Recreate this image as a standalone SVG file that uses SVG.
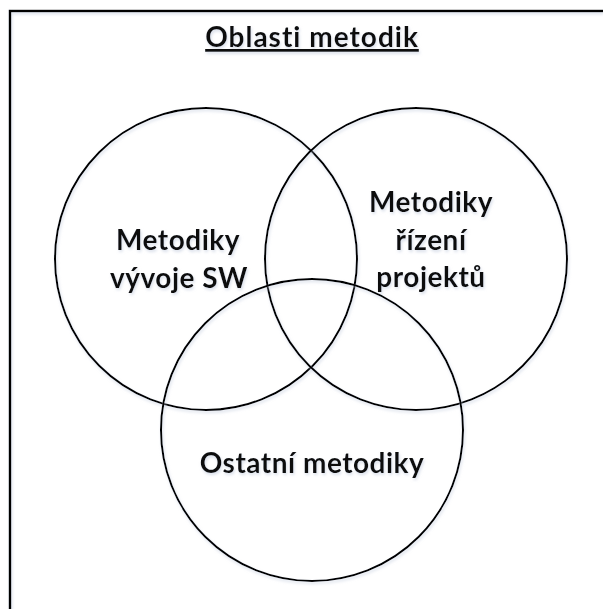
<svg xmlns="http://www.w3.org/2000/svg" width="603" height="609" viewBox="0 0 603 609">
  <defs>
    <filter id="soft" x="-10%" y="-10%" width="120%" height="120%">
      <feDropShadow dx="1" dy="2" stdDeviation="1.5" flood-color="#b9c4d8" flood-opacity="0.55"/>
    </filter>
  </defs>
  <style>
    .ring { fill: none; stroke: #000; stroke-width: 2; }
    .lbl { font-family: Lato, "Open Sans", "Liberation Sans", sans-serif; font-weight: 700; font-size: 28px; letter-spacing: 0.5px; fill: #111; text-anchor: middle; }
    .title { font-size: 28px; letter-spacing: 1px; text-decoration: underline; }
  </style>
  <rect width="603" height="609" fill="#fff"/>
  <!-- frame: only its top and left sides fall inside the canvas -->
  <g id="frame" filter="url(#soft)">
    <path d="M10,609 V11 H603" fill="none" stroke="#000" stroke-width="2.5"/>
  </g>
  <g id="title" filter="url(#soft)">
    <text class="lbl title" x="312" y="47">Oblasti metodik</text>
  </g>
  <g id="connectors"></g>
  <g id="sw" filter="url(#soft)">
    <circle class="ring" cx="206" cy="259" r="151"/>
    <text class="lbl" x="178" y="250">Metodiky</text>
    <text class="lbl" x="179" y="288">vývoje SW</text>
  </g>
  <g id="projekty" filter="url(#soft)">
    <circle class="ring" cx="416" cy="259" r="151"/>
    <text class="lbl" x="431" y="212">Metodiky</text>
    <text class="lbl" x="431" y="250">řízení</text>
    <text class="lbl" x="431" y="287">projektů</text>
  </g>
  <g id="ostatni" filter="url(#soft)">
    <circle class="ring" cx="312" cy="430" r="151"/>
    <text class="lbl" x="312" y="473">Ostatní metodiky</text>
  </g>
</svg>
